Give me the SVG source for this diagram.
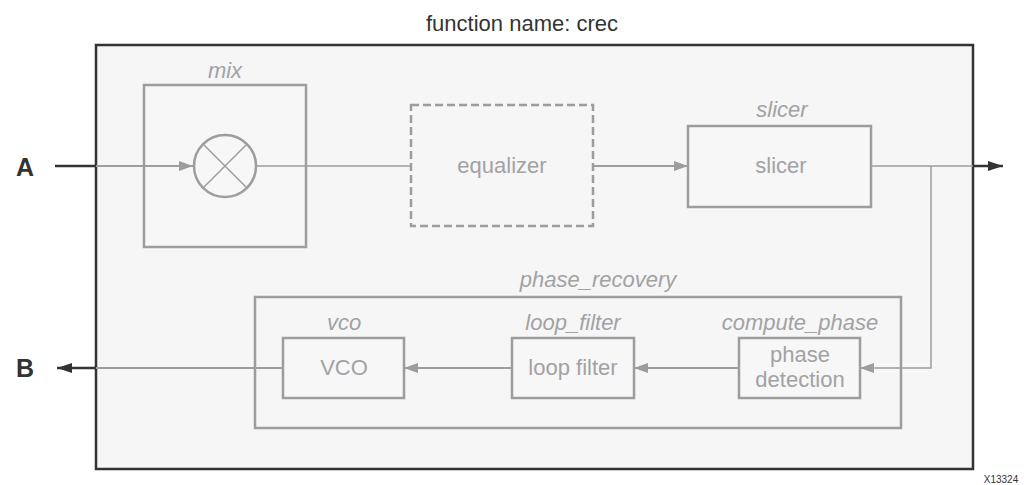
<svg xmlns="http://www.w3.org/2000/svg" width="1026" height="485" viewBox="0 0 1026 485">
<style>
.blk{fill:#f7f7f7;stroke:#9d9d9f;stroke-width:2.5}
.lbl{font-family:"Liberation Sans",Arial,sans-serif;font-size:22px;fill:#a2a2a4;text-anchor:middle}
.it{font-style:italic}
.wire{fill:none;stroke:#9d9d9f;stroke-width:2}
.thin{fill:none;stroke:#9d9d9f;stroke-width:1.5}
.dark{fill:none;stroke:#333;stroke-width:2.5}
.port{font-family:"Liberation Sans",Arial,sans-serif;font-weight:bold;font-size:25px;fill:#333;text-anchor:middle}
</style>
<defs>
<marker id="ga" viewBox="0 0 14 10" refX="14" refY="5" markerWidth="14" markerHeight="10" markerUnits="userSpaceOnUse" orient="auto"><path d="M0,0 L14,5 L0,10 Z" fill="#9d9d9f"/></marker>
<marker id="da" viewBox="0 0 15 10" refX="15" refY="5" markerWidth="15" markerHeight="10" markerUnits="userSpaceOnUse" orient="auto"><path d="M0,0 L15,5 L0,10 Z" fill="#333"/></marker>
</defs>
<rect width="1026" height="485" fill="#fff"/>
<g id="crec">
<rect x="96" y="45" width="877" height="424" fill="#f6f6f6" stroke="#333" stroke-width="2.5"/>
<text x="522" y="31" font-family="'Liberation Sans',Arial,sans-serif" font-size="22" fill="#333" text-anchor="middle">function name: crec</text>
</g>
<g id="mix">
<rect class="blk" x="144" y="85" width="162" height="162"/>
<text class="lbl it" x="225" y="78">mix</text>
<circle cx="225" cy="166" r="31" fill="none" stroke="#9d9d9f" stroke-width="2.5"/>
<path d="M203,144 L247,188 M247,144 L203,188" stroke="#9d9d9f" stroke-width="1.5"/>
</g>
<g id="equalizer">
<rect x="411" y="105" width="182" height="121" fill="none" stroke="#9d9d9f" stroke-width="2.5" stroke-dasharray="8,4"/>
<text class="lbl" x="502" y="173">equalizer</text>
</g>
<g id="slicer">
<rect class="blk" x="688" y="126" width="183" height="81"/>
<text class="lbl it" x="782" y="117">slicer</text>
<text class="lbl" x="781" y="173">slicer</text>
</g>
<g id="phase_recovery">
<rect x="255" y="297" width="646" height="131" fill="none" stroke="#9d9d9f" stroke-width="2.5"/>
<text class="lbl it" x="598" y="287">phase_recovery</text>
</g>
<g id="vco">
<rect class="blk" x="283" y="338" width="121" height="60"/>
<text class="lbl it" x="344" y="330">vco</text>
<text class="lbl" x="344" y="375">VCO</text>
</g>
<g id="loop_filter">
<rect class="blk" x="512" y="338" width="122" height="60"/>
<text class="lbl it" x="573" y="330">loop_filter</text>
<text class="lbl" x="573" y="375">loop filter</text>
</g>
<g id="compute_phase">
<rect class="blk" x="739" y="338" width="121" height="60"/>
<text class="lbl it" x="800" y="330">compute_phase</text>
<text class="lbl" x="800" y="362">phase</text>
<text class="lbl" x="800" y="387">detection</text>
</g>
<g id="ports">
<text class="port" x="25" y="176">A</text>
<text class="port" x="25" y="377">B</text>
<text x="1001" y="483" font-family="'Liberation Sans',Arial,sans-serif" font-size="10" fill="#333" text-anchor="middle">X13324</text>
</g>
<g id="connectors">
<path class="dark" d="M55,166 L96,166"/>
<path class="wire" d="M96,166 L193,166" marker-end="url(#ga)"/>
<path class="thin" d="M256,166 L411,166"/>
<path class="wire" d="M593,166 L688,166" marker-end="url(#ga)"/>
<path class="thin" d="M871,166 L973,166"/>
<path class="dark" d="M973,166 L1003,166" marker-end="url(#da)"/>
<path class="thin" d="M931,166 L931,368 L860,368" marker-end="url(#ga)"/>
<path class="wire" d="M739,368 L634,368" marker-end="url(#ga)"/>
<path class="wire" d="M512,368 L404,368" marker-end="url(#ga)"/>
<path class="wire" d="M283,368 L96,368"/>
<path class="dark" d="M96,368 L57,368" marker-end="url(#da)"/>
</g>
</svg>
